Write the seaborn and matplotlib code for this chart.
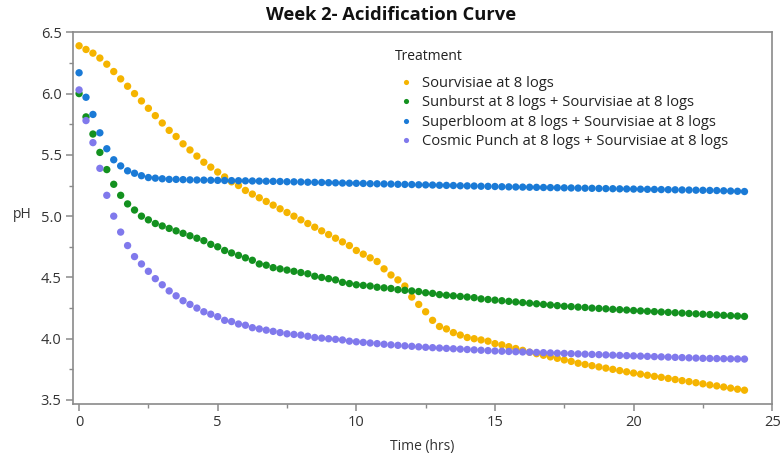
import numpy as np
import pandas as pd
import matplotlib
matplotlib.use("Agg")
import matplotlib.pyplot as plt
import seaborn as sns
from matplotlib.ticker import MultipleLocator

# ---- data (pH readings every 15 minutes, 0-24 h) ----
time_hrs = np.arange(0, 24.001, 0.25)

sourvisiae = [6.39, 6.36, 6.33, 6.29, 6.24, 6.18, 6.12, 6.06, 6.00, 5.94, 5.88, 5.82, 5.76, 5.70, 5.65, 5.59,
              5.54, 5.49, 5.44, 5.40, 5.36, 5.32, 5.28, 5.25, 5.21, 5.18, 5.15,
              5.12, 5.09, 5.06, 5.03, 5.00, 4.97, 4.94, 4.91, 4.88, 4.85,
              4.82, 4.79, 4.76, 4.72, 4.69, 4.66, 4.63, 4.57, 4.52, 4.48,
              4.43, 4.34, 4.28, 4.22, 4.15, 4.10, 4.08, 4.05, 4.03, 4.01,
              4.00, 3.99, 3.98, 3.96, 3.95, 3.935, 3.92, 3.905, 3.89, 3.878,
              3.865, 3.852, 3.84, 3.827, 3.815, 3.80, 3.79, 3.78, 3.77, 3.76,
              3.75, 3.74, 3.73, 3.72, 3.711, 3.702, 3.693, 3.685, 3.676, 3.667,
              3.658, 3.65, 3.641, 3.632, 3.623, 3.615, 3.606, 3.597, 3.588, 3.58]

sunburst = [6.00, 5.81, 5.67, 5.52, 5.38, 5.26, 5.17, 5.10, 5.05, 5.00, 4.97, 4.94, 4.92, 4.90, 4.88, 4.86,
            4.84, 4.82, 4.80, 4.77, 4.75, 4.72, 4.70, 4.68, 4.66, 4.64, 4.61,
            4.60, 4.58, 4.57, 4.56, 4.55, 4.54, 4.53, 4.51, 4.50, 4.49,
            4.48, 4.46, 4.45, 4.44, 4.435, 4.43, 4.42, 4.415, 4.41, 4.40,
            4.395, 4.39, 4.385, 4.375, 4.37, 4.36, 4.355, 4.35, 4.345, 4.34,
            4.335, 4.325, 4.32, 4.315, 4.31, 4.305, 4.30, 4.295, 4.29, 4.285,
            4.28, 4.275, 4.27, 4.265, 4.262, 4.258, 4.255, 4.25, 4.247, 4.244,
            4.24, 4.237, 4.234, 4.23, 4.227, 4.224, 4.221, 4.218, 4.215, 4.212,
            4.209, 4.206, 4.203, 4.20, 4.197, 4.194, 4.191, 4.188, 4.185, 4.182]

superbloom = [6.17, 5.97, 5.83, 5.68, 5.55, 5.46, 5.41, 5.37, 5.35, 5.33, 5.315, 5.31, 5.305, 5.30,
              5.30, 5.298, 5.296, 5.295, 5.294, 5.293, 5.292, 5.291, 5.29, 5.289, 5.288, 5.287, 5.286, 5.285,
              5.284, 5.283, 5.281, 5.28, 5.279, 5.277, 5.276, 5.275, 5.273, 5.272, 5.27, 5.269,
              5.268, 5.267, 5.265, 5.264, 5.263, 5.262, 5.26, 5.259, 5.258, 5.256, 5.255, 5.254,
              5.252, 5.251, 5.25, 5.248, 5.247, 5.246, 5.244, 5.243, 5.242, 5.24, 5.239, 5.238,
              5.237, 5.236, 5.235, 5.234, 5.233, 5.232, 5.231, 5.23, 5.229, 5.228, 5.227, 5.226,
              5.225, 5.224, 5.223, 5.222, 5.221, 5.22, 5.219, 5.218, 5.217, 5.216, 5.215, 5.214,
              5.213, 5.212, 5.211, 5.21, 5.209, 5.207, 5.205, 5.203, 5.201]

cosmic_punch = [6.03, 5.78, 5.60, 5.39, 5.17, 5.00, 4.87, 4.76, 4.67, 4.61, 4.55, 4.49, 4.44, 4.39, 4.35, 4.31,
                4.28, 4.25, 4.22, 4.20, 4.18, 4.15, 4.14, 4.12, 4.11, 4.09, 4.08,
                4.07, 4.06, 4.05, 4.04, 4.035, 4.03, 4.02, 4.01, 4.005, 4.00,
                3.995, 3.99, 3.98, 3.975, 3.97, 3.965, 3.96, 3.955, 3.95, 3.946,
                3.942, 3.938, 3.934, 3.93, 3.927, 3.924, 3.921, 3.918, 3.915, 3.912,
                3.909, 3.906, 3.903, 3.90, 3.898, 3.896, 3.894, 3.892, 3.89, 3.888,
                3.886, 3.884, 3.882, 3.88, 3.878, 3.876, 3.874, 3.872, 3.87, 3.868,
                3.866, 3.864, 3.862, 3.86, 3.858, 3.856, 3.854, 3.852, 3.85, 3.848,
                3.846, 3.844, 3.842, 3.84, 3.839, 3.838, 3.837, 3.836, 3.835, 3.834]

treatments = ["Sourvisiae at 8 logs",
              "Sunburst at 8 logs + Sourvisiae at 8 logs",
              "Superbloom at 8 logs + Sourvisiae at 8 logs",
              "Cosmic Punch at 8 logs + Sourvisiae at 8 logs"]
series = [sourvisiae, sunburst, superbloom, cosmic_punch]
colors = ["#F5B400", "#13911F", "#1A7AD6", "#8079EC"]

rows = []
for name, vals in zip(treatments, series):
    for t, v in zip(time_hrs, vals):
        rows.append({"Time (hrs)": t, "pH": v, "Treatment": name})
df = pd.DataFrame(rows)

# ---- style ----
sns.set_style("white")
plt.rcParams["font.family"] = ["Open Sans", "DejaVu Sans"]

fig = plt.figure(figsize=(7.8, 4.59), dpi=100)
ax = fig.add_axes([0.0932, 0.1192, 0.8968, 0.8104])

sns.scatterplot(data=df, x="Time (hrs)", y="pH", hue="Treatment",
                hue_order=treatments, palette=colors, s=28, linewidth=0,
                ax=ax, legend=True)

ax.set_xlim(-0.23, 25)
ax.set_ylim(3.465, 6.5)
ax.xaxis.set_major_locator(MultipleLocator(5))
ax.xaxis.set_minor_locator(MultipleLocator(2.5))
ax.yaxis.set_major_locator(MultipleLocator(0.5))
ax.yaxis.set_minor_locator(MultipleLocator(0.25))
ax.yaxis.set_major_formatter(matplotlib.ticker.FormatStrFormatter("%.1f"))

spine_col = "#8a8a8a"
for sp in ax.spines.values():
    sp.set_color(spine_col)
    sp.set_linewidth(1.2)
ax.tick_params(axis="both", which="major", direction="out", length=5, width=1.1,
               color=spine_col, labelsize=10.5, labelcolor="#333333", pad=3)
ax.tick_params(axis="both", which="minor", direction="out", length=3, width=1.0,
               color=spine_col)
ax.tick_params(left=True, bottom=True, which="both")

ax.set_xlabel("Time (hrs)", fontsize=10, color="#333333", labelpad=6)
ax.set_ylabel("pH", fontsize=10, color="#333333", rotation=0, labelpad=2)
ax.yaxis.set_label_coords(-0.072, 0.49)

fig.text(0.501, 0.967, "Week 2- Acidification Curve", ha="center", va="center",
         fontsize=13.2, fontweight="bold", color="#111111")

handles, labels = ax.get_legend_handles_labels()
leg = ax.legend(handles, labels, frameon=False,
                loc="upper left", bbox_to_anchor=(395 / 780, 1 - 76 / 459),
                bbox_transform=fig.transFigure, fontsize=10.6,
                handlelength=1.5, handletextpad=0.3, labelspacing=0.3,
                borderpad=0, borderaxespad=0, markerscale=0.7)
for txt in leg.get_texts():
    txt.set_color("#222222")
fig.text(395 / 780, 1 - 56 / 459, "Treatment", ha="left", va="center",
         fontsize=10, color="#222222")

fig.savefig("out.png", dpi=100)
